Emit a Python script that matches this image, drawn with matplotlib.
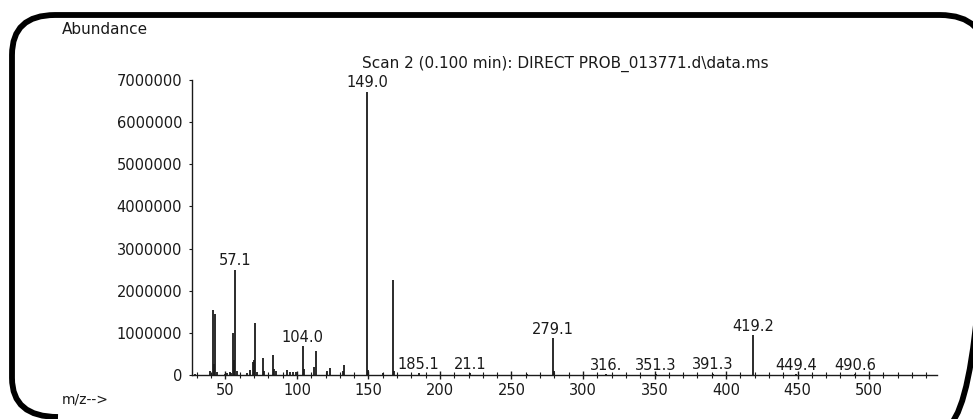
import matplotlib
matplotlib.use('Agg')
import matplotlib.pyplot as plt
import numpy as np
from matplotlib.path import Path
from matplotlib.patches import PathPatch
from matplotlib.ticker import MultipleLocator

# peaks (m/z, abundance)
mz = [29, 39, 41, 42, 43, 44, 50, 51, 53, 54, 55, 56, 57, 58, 65, 67, 69, 70, 71, 72,
      76, 77, 83, 84, 85, 93, 95, 97, 99, 104, 105, 112, 113, 121, 123, 132, 133,
      149, 150, 160, 167, 168, 185, 221, 261, 279, 280, 316, 351, 391, 419, 449, 490]
abund = [30000, 90000, 1550000, 250000, 1450000, 60000, 30000, 40000, 80000, 50000,
         1000000, 350000, 2500000, 100000, 50000, 120000, 300000, 350000, 1230000, 80000,
         400000, 100000, 470000, 150000, 100000, 120000, 60000, 80000, 60000, 690000,
         150000, 200000, 570000, 90000, 170000, 100000, 240000,
         6720000, 120000, 50000, 2250000, 100000, 50000, 40000, 30000, 880000, 100000,
         20000, 20000, 30000, 950000, 20000, 20000]

# peak labels as printed on the plot
lab_mz = [57, 104, 149, 185, 221, 279, 316, 351, 391, 419, 449, 490]
lab_txt = ['57.1', '104.0', '149.0', '185.1', '21.1', '279.1', '316.', '351.3',
           '391.3', '419.2', '449.4', '490.6']

yticks = [0, 1000000, 2000000, 3000000, 4000000, 5000000, 6000000, 7000000]

plt.rcParams['font.family'] = 'DejaVu Sans'
ink = '#1a1a1a'
fs = 10.5

fig = plt.figure(figsize=(9.73, 4.19), dpi=100)
ax = fig.add_axes([0.1973, 0.105, 0.7657, 0.704])

ax.vlines(mz, 0, abund, color=ink, linewidth=1.3)

lookup = dict(zip(mz, abund))
for m, t in zip(lab_mz, lab_txt):
    ax.annotate(t, (m, lookup[m]), xytext=(0, 1.0), textcoords='offset points',
                ha='center', va='bottom', fontsize=fs, color=ink)

ax.set_xlim(26.6, 547.5)
ax.set_ylim(0, 7000000)
ax.set_yticks(yticks)
ax.set_yticklabels([str(v) for v in yticks])
ax.xaxis.set_minor_locator(MultipleLocator(10))
ax.set_xticks([50, 100, 150, 200, 250, 300, 350, 400, 450, 500])

for s in ['top', 'right']:
    ax.spines[s].set_visible(False)
for s in ['left', 'bottom']:
    ax.spines[s].set_linewidth(1.0)
    ax.spines[s].set_color(ink)

ax.tick_params(axis='x', which='major', direction='inout', length=6, width=1,
               labelsize=fs, pad=3, colors=ink)
ax.tick_params(axis='x', which='minor', direction='inout', length=4, width=0.8, colors=ink)
ax.tick_params(axis='y', direction='out', length=2, width=0.8, labelsize=fs, pad=5,
               colors=ink)

fig.text(565 / 973, 1 - 64 / 419, 'Scan 2 (0.100 min): DIRECT PROB_013771.d\\data.ms',
         ha='center', va='center', fontsize=11, color=ink)
fig.text(62 / 973, 1 - 30 / 419, 'Abundance', ha='left', va='center',
         fontsize=11, color=ink)
fig.text(62 / 973, 1 - 399 / 419, 'm/z-->', ha='left', va='center',
         fontsize=10, color=ink)

# rounded black frame round the whole picture (pixel coords, top-left origin)
W, H = 973.0, 419.0
pts = [(58, 417), (12, 417), (12, 378), (12, 55), (12, 15), (55, 15),
       (940, 15), (986, 15), (986, 60), (986, 385), (986, 430), (940, 430)]
codes = [Path.MOVETO, Path.CURVE3, Path.CURVE3, Path.LINETO, Path.CURVE3, Path.CURVE3,
         Path.LINETO, Path.CURVE3, Path.CURVE3, Path.LINETO, Path.CURVE3, Path.CURVE3]
frame = Path([(x / W, 1 - y / H) for x, y in pts], codes)
fig.patches.append(PathPatch(frame, transform=fig.transFigure, fill=False,
                             edgecolor='black', linewidth=4.2, capstyle='butt'))

fig.savefig('out.png', dpi=100, facecolor='white')
